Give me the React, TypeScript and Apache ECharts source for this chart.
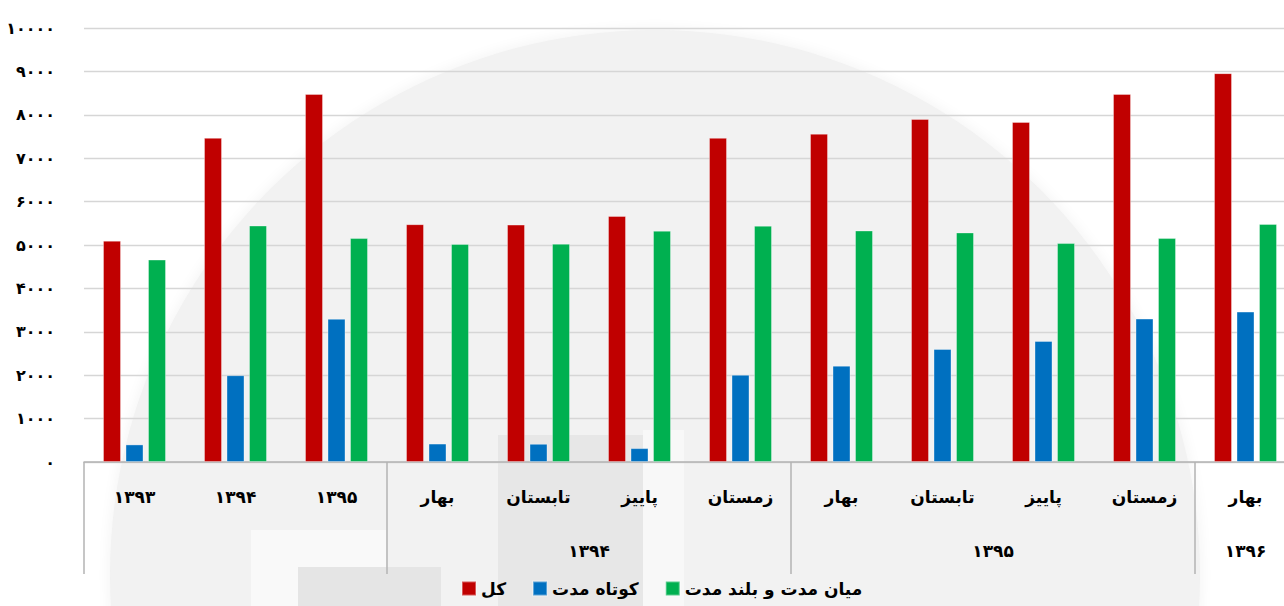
import React, { useEffect, useRef } from "react";
import * as echarts from "echarts";

const categories = ["۱۳۹۳", "۱۳۹۴", "۱۳۹۵", "بهار", "تابستان", "پاییز", "زمستان", "بهار", "تابستان", "پاییز", "زمستان", "بهار"];
const groupNames = ["", "۱۳۹۴", "۱۳۹۵", "۱۳۹۶"];
const groupSpans = [3, 4, 4, 1];
const seriesNames = ["کل", "کوتاه مدت", "میان مدت و بلند مدت"];
const totalValues = [5100, 7470, 8480, 5480, 5470, 5670, 7470, 7565, 7905, 7835, 8480, 8960];
const shortValues = [405, 2000, 3300, 425, 420, 320, 2010, 2220, 2605, 2790, 3305, 3465];
const longValues = [4665, 5450, 5160, 5025, 5030, 5330, 5445, 5335, 5290, 5045, 5160, 5485];
const colors = ["#C00000", "#0070C0", "#00B050"];

const faDigits = ["۰", "۱", "۲", "۳", "۴", "۵", "۶", "۷", "۸", "۹"];
const toFa = (v: number | string) => String(v).replace(/[0-9]/g, (d) => faDigits[+d]);

const FONT = "DejaVu Sans";

export default function App() {
  const ref = useRef<HTMLDivElement>(null);
  useEffect(() => {
    const chart = echarts.init(ref.current!, null, { renderer: "svg" });

    // second-level axis: half-category slots
    const slots = groupSpans.reduce((a, b) => a + b, 0) * 2 + 1;
    const groupData: string[] = new Array(slots).fill("");
    const boundaries: number[] = [];
    const labelIdx: number[] = [];
    let start = 0;
    groupSpans.forEach((span, i) => {
      boundaries.push(start * 2);
      if (groupNames[i]) {
        groupData[start * 2 + span] = groupNames[i];
        labelIdx.push(start * 2 + span);
      }
      start += span;
    });
    boundaries.push(start * 2);

    const bar = (name: string, data: number[], color: string) => ({
      name,
      type: "bar",
      data,
      barWidth: 18,
      barGap: "25%",
      itemStyle: { color, borderColor: "rgba(255,255,255,0.35)", borderWidth: 1 },
    });

    chart.setOption({
      animation: false,
      backgroundColor: "#ffffff",
      textStyle: { fontFamily: FONT },
      graphic: [
        {
          type: "circle",
          z: -10,
          shape: { cx: 655, cy: 575, r: 545 },
          style: { fill: "#f2f2f2", shadowBlur: 14, shadowColor: "#f2f2f2" },
        },
        { type: "rect", z: -9, shape: { x: 251, y: 530, width: 135, height: 76 }, style: { fill: "#f9f9f9" } },
        { type: "rect", z: -8, shape: { x: 298, y: 567, width: 143, height: 39 }, style: { fill: "#e5e5e5" } },
        { type: "rect", z: -8, shape: { x: 498, y: 435, width: 145, height: 171 }, style: { fill: "#e7e7e7" } },
        { type: "rect", z: -8, shape: { x: 643, y: 430, width: 41, height: 176 }, style: { fill: "#f8f8f8" } },
      ],
      legend: {
        data: seriesNames,
        left: 461,
        top: 580,
        padding: 0,
        icon: "rect",
        itemWidth: 14,
        itemHeight: 14,
        itemGap: 26,
        textStyle: { fontFamily: FONT, fontSize: 17, fontWeight: "bold", color: "#000" },
      },
      grid: {
        left: 84,
        right: -12,
        top: 28,
        bottom: 144,
        containLabel: false,
        outerBoundsMode: "none",
      },
      xAxis: [
        {
          type: "category",
          data: categories,
          axisLine: { show: true, lineStyle: { color: "#b3b3b3", width: 1.5 } },
          axisTick: { show: false },
          axisLabel: {
            interval: 0,
            margin: 26,
            fontFamily: FONT,
            fontSize: 17,
            fontWeight: "bold",
            color: "#000",
          },
        },
        {
          type: "category",
          position: "bottom",
          data: groupData,
          boundaryGap: false,
          axisLine: { show: false },
          axisTick: {
            show: true,
            length: 112,
            interval: (i: number) => boundaries.includes(i),
            lineStyle: { color: "#b3b3b3", width: 1.5 },
          },
          axisLabel: {
            interval: (i: number) => labelIdx.includes(i),
            margin: 80,
            fontFamily: FONT,
            fontSize: 17,
            fontWeight: "bold",
            color: "#000",
          },
        },
      ],
      yAxis: {
        type: "value",
        min: 0,
        max: 10000,
        interval: 1000,
        axisLine: { show: false },
        axisTick: { show: false },
        splitLine: { lineStyle: { color: "#d6d6d6", width: 1.3 } },
        axisLabel: {
          margin: 29,
          fontFamily: FONT,
          fontSize: 16,
          fontWeight: "bold",
          color: "#000",
          padding: [0, 0, 9, 0],
          formatter: (v: number) => toFa(v),
        },
      },
      series: [
        bar(seriesNames[0], totalValues, colors[0]),
        bar(seriesNames[1], shortValues, colors[1]),
        bar(seriesNames[2], longValues, colors[2]),
      ],
    });
    return () => chart.dispose();
  }, []);
  return (
    <div
      ref={ref}
      style={{ position: "fixed", left: 0, top: 0, width: 1284, height: 606, background: "#fff" }}
    />
  );
}
